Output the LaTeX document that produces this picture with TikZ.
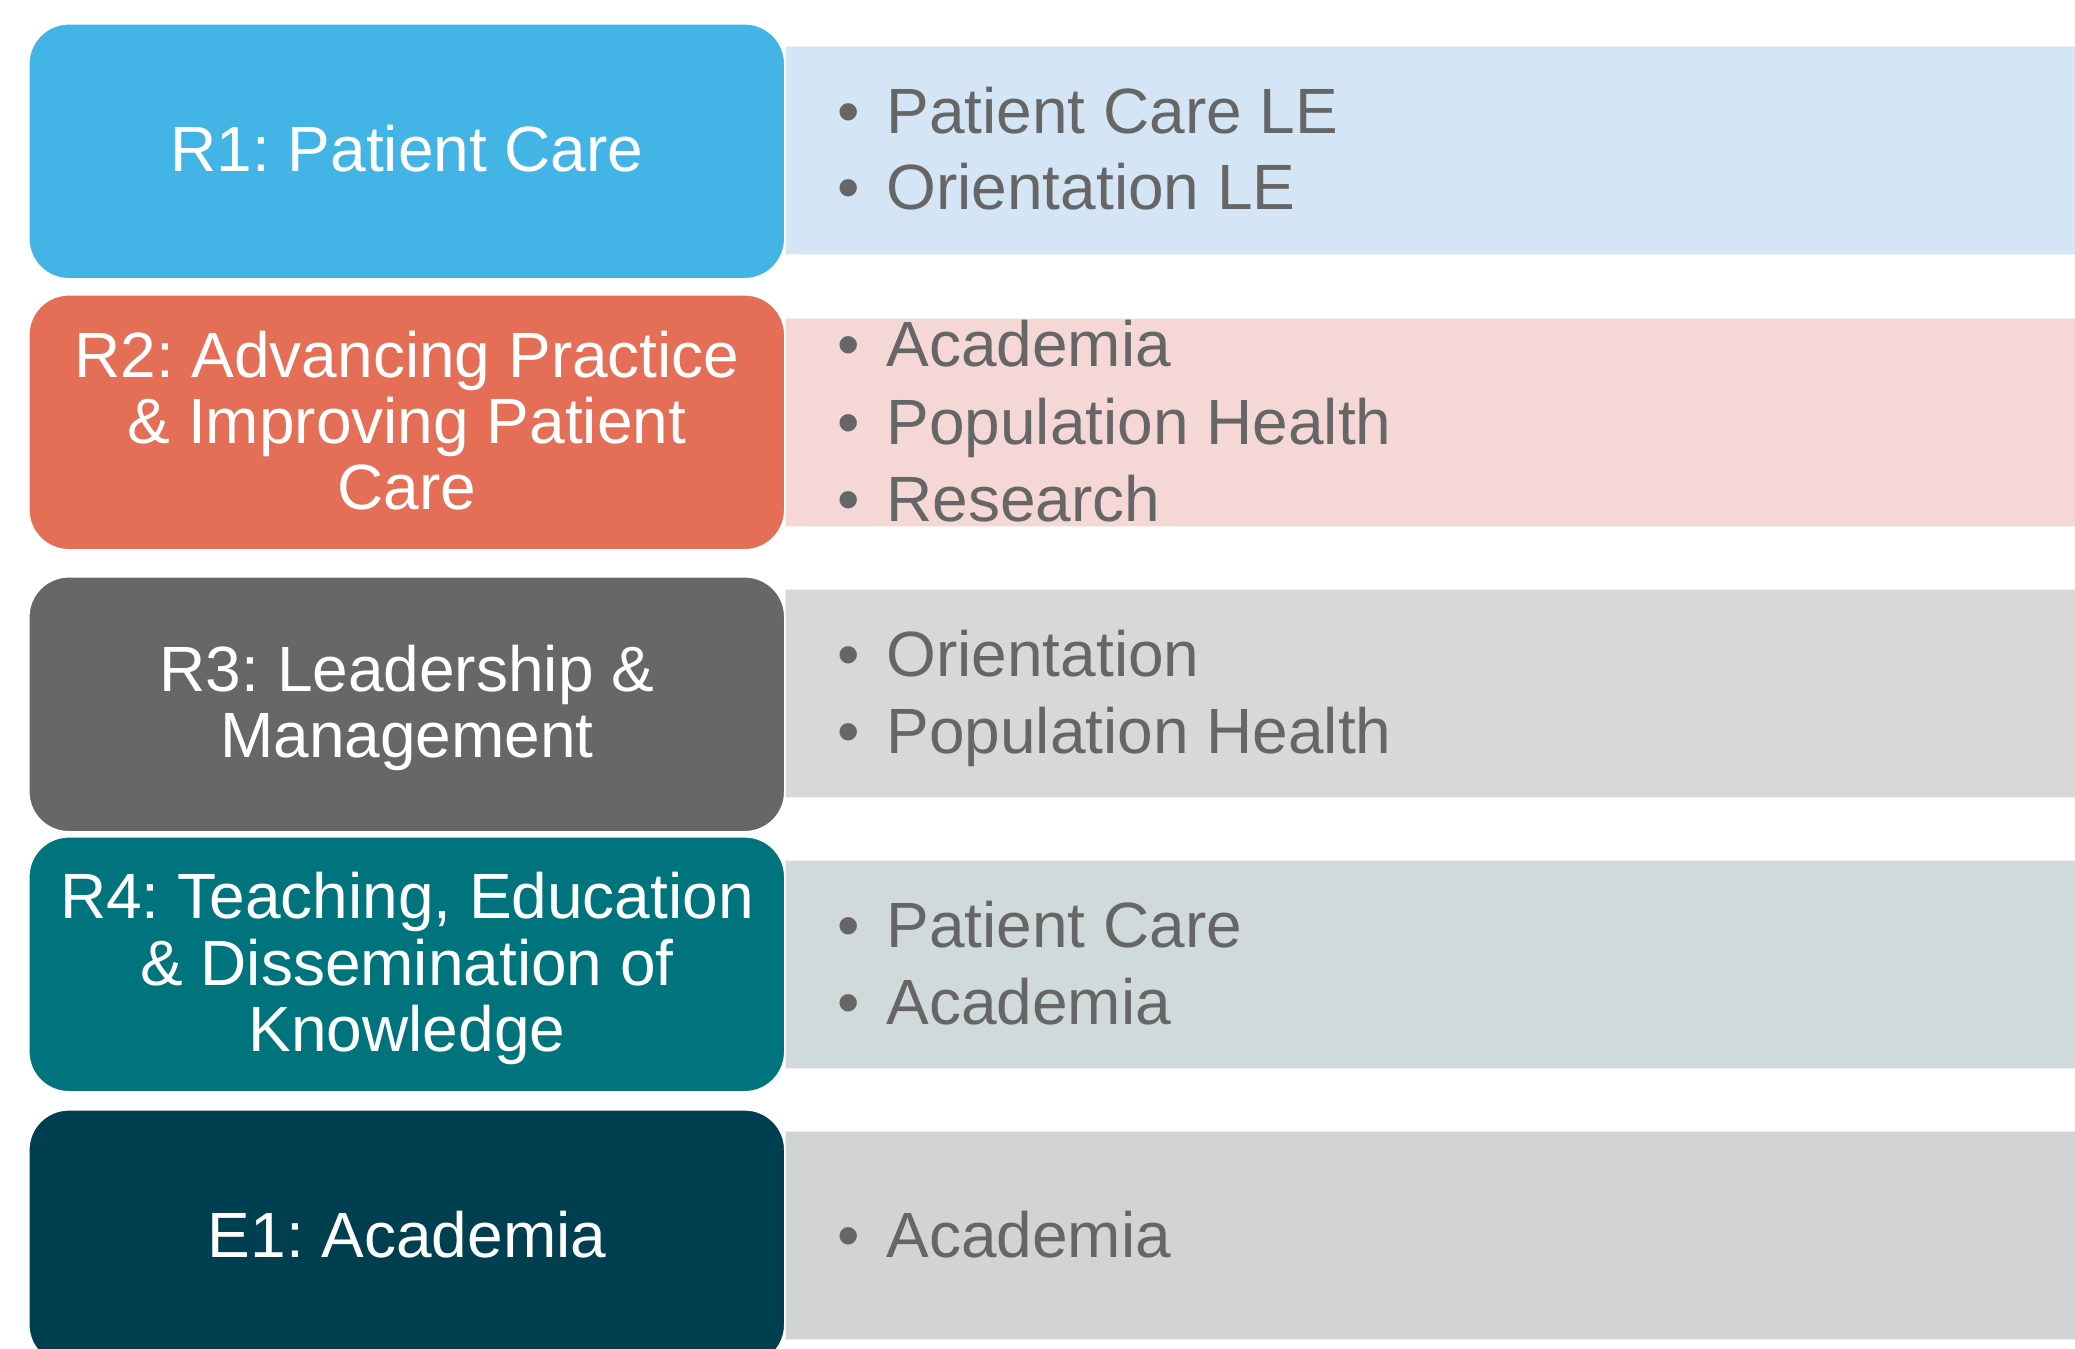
\documentclass[tikz,border=0pt]{standalone}
\usepackage{fontspec}
\setmainfont{Liberation Sans}
\frenchspacing
\definecolor{cA}{HTML}{42B4E6}
\definecolor{cB}{HTML}{E56E56}
\definecolor{cC}{HTML}{676767}
\definecolor{cD}{HTML}{00747D}
\definecolor{cE}{HTML}{003F50}
\definecolor{bA}{HTML}{D4E6F5}
\definecolor{bB}{HTML}{F5D8D5}
\definecolor{bC}{HTML}{D8D8D8}
\definecolor{bD}{HTML}{D0DADB}
\definecolor{bE}{HTML}{D2D3D5}
\definecolor{txtgray}{HTML}{666666}
\tikzset{
  catbox/.style={draw=white, line width=0.8pt, rounded corners=20pt, inner sep=0pt,
    minimum width=378pt, minimum height=127.5pt, anchor=north west},
  band/.style={draw=white!60!#1, line width=0.6pt, fill=#1, inner sep=0pt,
    minimum width=650pt, minimum height=104pt, anchor=north west},
  lefttxt/.style={text=white, anchor=base, inner sep=0pt, font=\fontsize{32}{33}\selectfont},
  righttxt/.style={text=txtgray, anchor=base west, inner sep=0pt, font=\fontsize{32}{33}\selectfont},
  bul/.style={text=txtgray, anchor=base, inner sep=0pt, font=\fontsize{32}{33}\selectfont}
}
\begin{document}
\begin{tikzpicture}[x=0.5pt,y=-0.5pt]
\useasboundingbox (0,0) rectangle (2075,1348);
\clip (0,0) rectangle (2075,1348);
\fill[white] (0,0) rectangle (2075,1348);

% bands
\node[band=bA] (bandA) at (785,46) {};
\node[band=bB] (bandB) at (785,318) {};
\node[band=bC] (bandC) at (785,589) {};
\node[band=bD] (bandD) at (785,860) {};
\node[band=bE] (bandE) at (785,1131) {};

% left boxes
\node[catbox, fill=cA] (boxA) at (28,23) {};
\node[catbox, fill=cB] (boxB) at (28,294) {};
\node[catbox, fill=cC] (boxC) at (28,576) {};
\node[catbox, fill=cD] (boxD) at (28,836) {};
\node[catbox, fill=cE] (boxE) at (28,1109) {};

% left texts
\node[lefttxt] (tA1) at (407,172) {R1: Patient Care};
\node[lefttxt] (tB1) at (407,377) {R2: Advancing Practice};
\node[lefttxt] (tB2) at (407,443) {\& Improving Patient};
\node[lefttxt] (tB3) at (407,509) {Care};
\node[lefttxt] (tC1) at (407,691) {R3: Leadership \&};
\node[lefttxt] (tC2) at (407,757) {Management};
\node[lefttxt] (tD1) at (407,918) {R4: Teaching, Education};
\node[lefttxt] (tD2) at (407,985) {\& Dissemination of};
\node[lefttxt] (tD3) at (407,1051) {Knowledge};
\node[lefttxt] (tE1) at (407,1257) {E1: Academia};

% right texts
\node[bul] (uA1) at (849,134) {•};
\node[righttxt] (rA1) at (886,134) {Patient Care LE};
\node[bul] (uA2) at (849,210) {•};
\node[righttxt] (rA2) at (886,210) {Orientation LE};

\node[bul] (uB1) at (849,366) {•};
\node[righttxt] (rB1) at (886,366) {Academia};
\node[bul] (uB2) at (849,444) {•};
\node[righttxt] (rB2) at (886,444) {Population Health};
\node[bul] (uB3) at (849,521) {•};
\node[righttxt] (rB3) at (886,521) {Research};

\node[bul] (uC1) at (849,676) {•};
\node[righttxt] (rC1) at (886,676) {Orientation};
\node[bul] (uC2) at (849,753) {•};
\node[righttxt] (rC2) at (886,753) {Population Health};

\node[bul] (uD1) at (849,947) {•};
\node[righttxt] (rD1) at (886,947) {Patient Care};
\node[bul] (uD2) at (849,1024) {•};
\node[righttxt] (rD2) at (886,1024) {Academia};

\node[bul] (uE1) at (849,1257) {•};
\node[righttxt] (rE1) at (886,1257) {Academia};
\end{tikzpicture}
\end{document}
